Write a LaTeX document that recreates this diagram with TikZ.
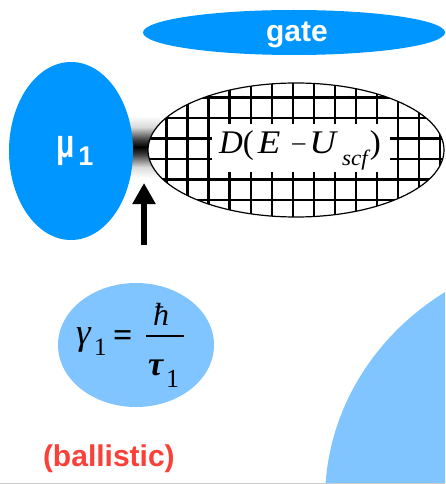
\documentclass[tikz,border=0pt]{standalone}
\usepackage{fontspec}
\setmainfont{Liberation Serif}
\setsansfont{Liberation Sans}
\usepackage{graphicx}
\usetikzlibrary{arrows.meta,shapes.geometric}
\definecolor{gateblue}{RGB}{0,150,255}
\definecolor{lightblue}{RGB}{128,197,255}
\definecolor{balred}{RGB}{250,64,56}
\pgfdeclareverticalshading{barrier}{100bp}{color(0bp)=(white); color(25bp)=(white); color(34bp)=(black!15); color(44bp)=(black!75); color(50bp)=(black); color(56bp)=(black!75); color(66bp)=(black!15); color(75bp)=(white); color(100bp)=(white)}
\tikzset{
  blob/.style={ellipse, inner sep=0pt, draw=none},
  gridline/.style={line width=2.6pt, black},
  txt/.style={anchor=base west, inner sep=0pt, outer sep=0pt},
}
\begin{document}
\begin{tikzpicture}[x=1pt,y=-1pt]
\useasboundingbox (0,0) rectangle (445,484);
\begin{scope}
\clip (0,0) rectangle (445,484);
% big light blue region bottom right
\node[blob, fill=lightblue, minimum width=534pt, minimum height=498pt] (big) at (592,500) {};
% gate
\node[blob, fill=gateblue, minimum width=302pt, minimum height=45pt] (gate) at (294,32.5) {};
\node[txt, anchor=base, text=white, font=\sffamily\bfseries\fontsize{30}{30}\selectfont] (gatetxt) at (297,42) {gate};
% barrier shading
\shade[shading=barrier] (128,116) rectangle (160,178);
% mu1 contact
\node[blob, fill=gateblue, minimum width=124pt, minimum height=178pt] (mu) at (71,151) {};
\node[txt, text=white, font=\sffamily\bfseries] (mutxt) at (56,157) {\fontsize{40}{40}\selectfont\scalebox{0.75}[1]{μ}\hspace{4pt}\raisebox{-8pt}{\fontsize{27}{27}\selectfont 1}};
% device
\node[blob, fill=white, minimum width=296pt, minimum height=134pt] (dev) at (296,150) {};
\begin{scope}
\clip (296,150) ellipse [x radius=148pt, y radius=67pt];
\foreach \k in {0,...,14} {
  \draw[gridline] ({145.7+21.02*\k},70) -- ({145.7+21.02*\k},230);
}
\foreach \k in {-1,...,6} {
  \draw[gridline] (140,{97.5+20.5*\k}) -- (450,{97.5+20.5*\k});
}
\end{scope}
\draw[line width=1.2pt] (dev.center) ellipse [x radius=148pt, y radius=67pt];
\node[fill=white, minimum width=178pt, minimum height=48pt, inner sep=0pt] (box) at (300.5,148) {};
\node[txt, font=\fontsize{33}{33}\selectfont] (dtxt) at (219,153) {\itshape D\upshape(\hspace{4pt}\itshape\scalebox{1.12}[1]{E}\hspace{12pt}\raisebox{2pt}{\upshape\fontsize{26}{26}\selectfont –}\hspace{4pt}\itshape\scalebox{1.12}[1]{U}\hspace{6pt}\raisebox{-12pt}{\fontsize{22}{22}\selectfont\scalebox{1.05}[1]{scf}}\hspace{2pt}\upshape)};
% arrow
\coordinate (atail) at (144,245);
\coordinate (ahead) at (144,183);
\draw[line width=6.5pt, -{Triangle[length=21pt,width=22pt]}] (atail) -- (ahead);
% gamma
\node[blob, fill=lightblue, minimum width=156pt, minimum height=124pt] (gam) at (136,345) {};
\node[txt, font=\fontsize{37}{37}\selectfont\itshape] (gsym) at (76,344) {γ};
\node[txt, font=\fontsize{25}{25}\selectfont] (gsub) at (94,355) {1};
\node[txt, font=\fontsize{34}{34}\selectfont\bfseries] (geq) at (113,346) {=};
\node[txt, font=\fontsize{32}{32}\selectfont\itshape] (hbar) at (153,325) {ħ};
\coordinate (fl) at (146,336);
\coordinate (fr) at (184,336);
\draw[line width=2pt] (fl) -- (fr);
\node[txt, font=\fontsize{34}{34}\selectfont\bfseries\itshape] (tau) at (148,375) {τ};
\node[txt, font=\fontsize{26}{26}\selectfont] (tsub) at (166,387) {1};
% ballistic
\node[txt, text=balred, font=\sffamily\bfseries\fontsize{30}{30}\selectfont] (bal) at (43,466) {(ballistic)};
% bottom line
\coordinate (bl) at (0,483.5);
\coordinate (br) at (445,483.5);
\draw[black!20, line width=1pt] (bl) -- (br);
\end{scope}
\end{tikzpicture}
\end{document}
